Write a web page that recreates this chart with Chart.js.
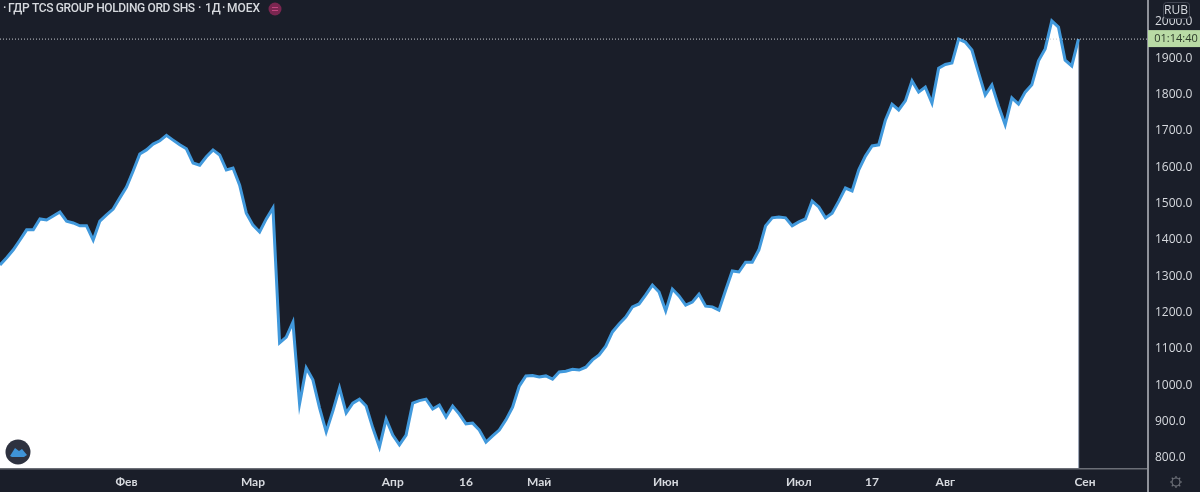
<!DOCTYPE html>
<html><head><meta charset="utf-8">
<script src="https://cdn.jsdelivr.net/npm/chart.js@4/dist/chart.umd.min.js"></script>
<style>html,body{margin:0;padding:0;background:#1a1e29;overflow:hidden}#w{width:1200px;height:492px;position:relative}</style>
</head><body><div id="w"><canvas id="c" width="1200" height="492"></canvas></div>
<script>
const prices=[1331,1351,1373,1400,1428,1428,1458,1455,1466,1477,1452,1447,1439,1439,1400,1452,1469,1485,1516,1546,
1590,1637,1648,1664,1673,1688,1675,1662,1651,1612,1606,1629,1648,1634,1593,1598,1551,1474,1441,1422,
1458,1488,1117,1133,1174,949,1048,1015,938,872,929,993,924,951,962,943,883,830,907,863,
836,863,951,958,962,935,946,913,943,921,894,896,877,844,861,877,905,940,998,1026,
1027,1023,1026,1017,1037,1039,1044,1042,1050,1070,1084,1108,1147,1169,1188,1216,1224,1249,1276,1257,
1205,1265,1246,1221,1229,1251,1218,1216,1207,1262,1315,1312,1339,1339,1373,1439,1461,1463,1461,1439,
1450,1458,1507,1491,1461,1474,1507,1543,1535,1593,1631,1659,1662,1730,1774,1758,1783,1838,1807,1821,
1777,1873,1883,1887,1953,1945,1923,1860,1799,1827,1769,1717,1791,1774,1807,1827,1893,1926,2003,1986,
1895,1879,1953];
const xTickPositions=[19,38,59,70,81,100,120,131,142,163];
const xTickLabels=['Фев','Мар','Апр','16','Май','Июн','Июл','17','Авг','Сен'];
const yTicks=[800,900,1000,1100,1200,1300,1400,1500,1600,1700,1800,1900,2000];
const lastPrice=1953;
const title='ГДР TCS GROUP HOLDING ORD SHS';
const interval='1Д';
const exchange='MOEX';
const currency='RUB';
const countdown='01:14:40';
const xMax=172.3, yMin=772.5, yMax=2060.6;

const BG='#1a1e29', TXT='#d6d9de', AX='#8f929a';
const FONT='"Open Sans","Noto Sans",sans-serif';

const overlay={
 id:'overlay',
 beforeDraw(ch){const c=ch.ctx;c.save();c.fillStyle=BG;c.fillRect(0,0,ch.width,ch.height);c.restore();},
 afterDraw(ch){
  const c=ch.ctx,a=ch.chartArea,ys=ch.scales.y;
  c.save();
  c.fillStyle='#6b6e76';c.fillRect(0,a.bottom,a.right,1.5);
  c.fillStyle=AX;c.fillRect(a.right,0,2,492);
  c.textBaseline='middle';c.textAlign='left';c.fillStyle=TXT;
  c.font='500 12px Roboto,'+FONT;
  c.letterSpacing='-0.35px';
  c.fillText('·',3,9);
  c.fillText(title,8,9);
  c.fillText('·',198,9);
  c.letterSpacing='0px';
  c.fillText(interval,205,9);
  c.fillText('·',222,9);
  c.fillText(exchange,227,9);
  c.fillStyle='#7a2650';c.beginPath();c.arc(275,9,6.5,0,Math.PI*2);c.fill();
  c.strokeStyle='#c2457f';c.lineWidth=1;c.beginPath();c.moveTo(272,7.5);c.lineTo(278,7.5);c.moveTo(272,10.5);c.lineTo(278,10.5);c.stroke();
  const py=ys.getPixelForValue(lastPrice);
  c.fillStyle='#b9dba5';c.fillRect(a.right+1,py-9,53,17);
  c.fillStyle='#2c3a2a';c.font='11px '+FONT;c.textAlign='center';
  c.fillText(countdown,1176,py);
  c.fillStyle=BG;c.strokeStyle='#434753';c.lineWidth=1;
  c.beginPath();c.roundRect(1163.5,2.5,26,16,3);c.fill();c.stroke();
  c.fillStyle=TXT;c.font='12px '+FONT;c.fillText(currency,1176,11);
  c.fillStyle='#2e3240';c.beginPath();c.arc(18,452,12.5,0,Math.PI*2);c.fill();
  c.fillStyle='#3f94d8';c.beginPath();c.moveTo(10,456);c.lineTo(15,448);c.lineTo(19,451);c.lineTo(22,449);c.lineTo(27,455);c.lineTo(24,457);c.lineTo(12,457);c.closePath();c.fill();
  c.strokeStyle='#6f727a';c.lineWidth=1.2;c.beginPath();c.arc(1176,482,4,0,Math.PI*2);c.stroke();
  c.beginPath();
  for(let i=0;i<8;i++){const t=i*Math.PI/4;c.moveTo(1176+4*Math.cos(t),482+4*Math.sin(t));c.lineTo(1176+6*Math.cos(t),482+6*Math.sin(t));}
  c.stroke();
  c.restore();
 }
};

new Chart(document.getElementById('c'),{
 type:'line',
 data:{datasets:[
  {data:[{x:0,y:lastPrice},{x:xMax,y:lastPrice}],borderColor:'#c8cbd0',borderWidth:1,borderDash:[1,2],pointRadius:0,fill:false,order:0},
  {data:[{x:prices.length-1,y:yMin},{x:prices.length-1,y:lastPrice}],borderColor:'#8a95a8',borderWidth:1.5,pointRadius:0,fill:false,order:2},
  {data:prices.map((v,i)=>({x:i,y:v})),borderColor:'#4199dc',backgroundColor:'#ffffff',borderWidth:3,pointRadius:0,tension:0,fill:'start',borderJoinStyle:'miter',order:1}
 ]},
 options:{
  responsive:false,animation:false,devicePixelRatio:1,
  layout:{padding:0},
  plugins:{legend:{display:false},tooltip:{enabled:false}},
  scales:{
   x:{type:'linear',min:0,max:xMax,
    afterFit(s){s.height=24;s.paddingLeft=0;s.paddingRight=0;s.paddingTop=0;s.paddingBottom=0;},
    afterBuildTicks(s){s.ticks=xTickPositions.map(v=>({value:v}));},
    grid:{display:false,drawTicks:false},border:{display:false},
    ticks:{autoSkip:false,maxRotation:0,padding:7,color:TXT,font:{family:'Lato,'+FONT,size:12,weight:'bold'},
     callback(v){return xTickLabels[xTickPositions.indexOf(v)];}}},
   y:{type:'linear',position:'right',min:yMin,max:yMax,
    afterFit(s){s.width=53;s.paddingLeft=0;s.paddingRight=0;s.paddingTop=0;s.paddingBottom=0;},
    afterBuildTicks(s){s.ticks=yTicks.map(v=>({value:v}));},
    grid:{display:false,drawTicks:false},border:{display:false},
    ticks:{autoSkip:false,padding:8,color:TXT,font:{family:FONT,size:12},
     callback(v){return v.toFixed(1);}}}
  }
 },
 plugins:[overlay]
});
</script></body></html>
